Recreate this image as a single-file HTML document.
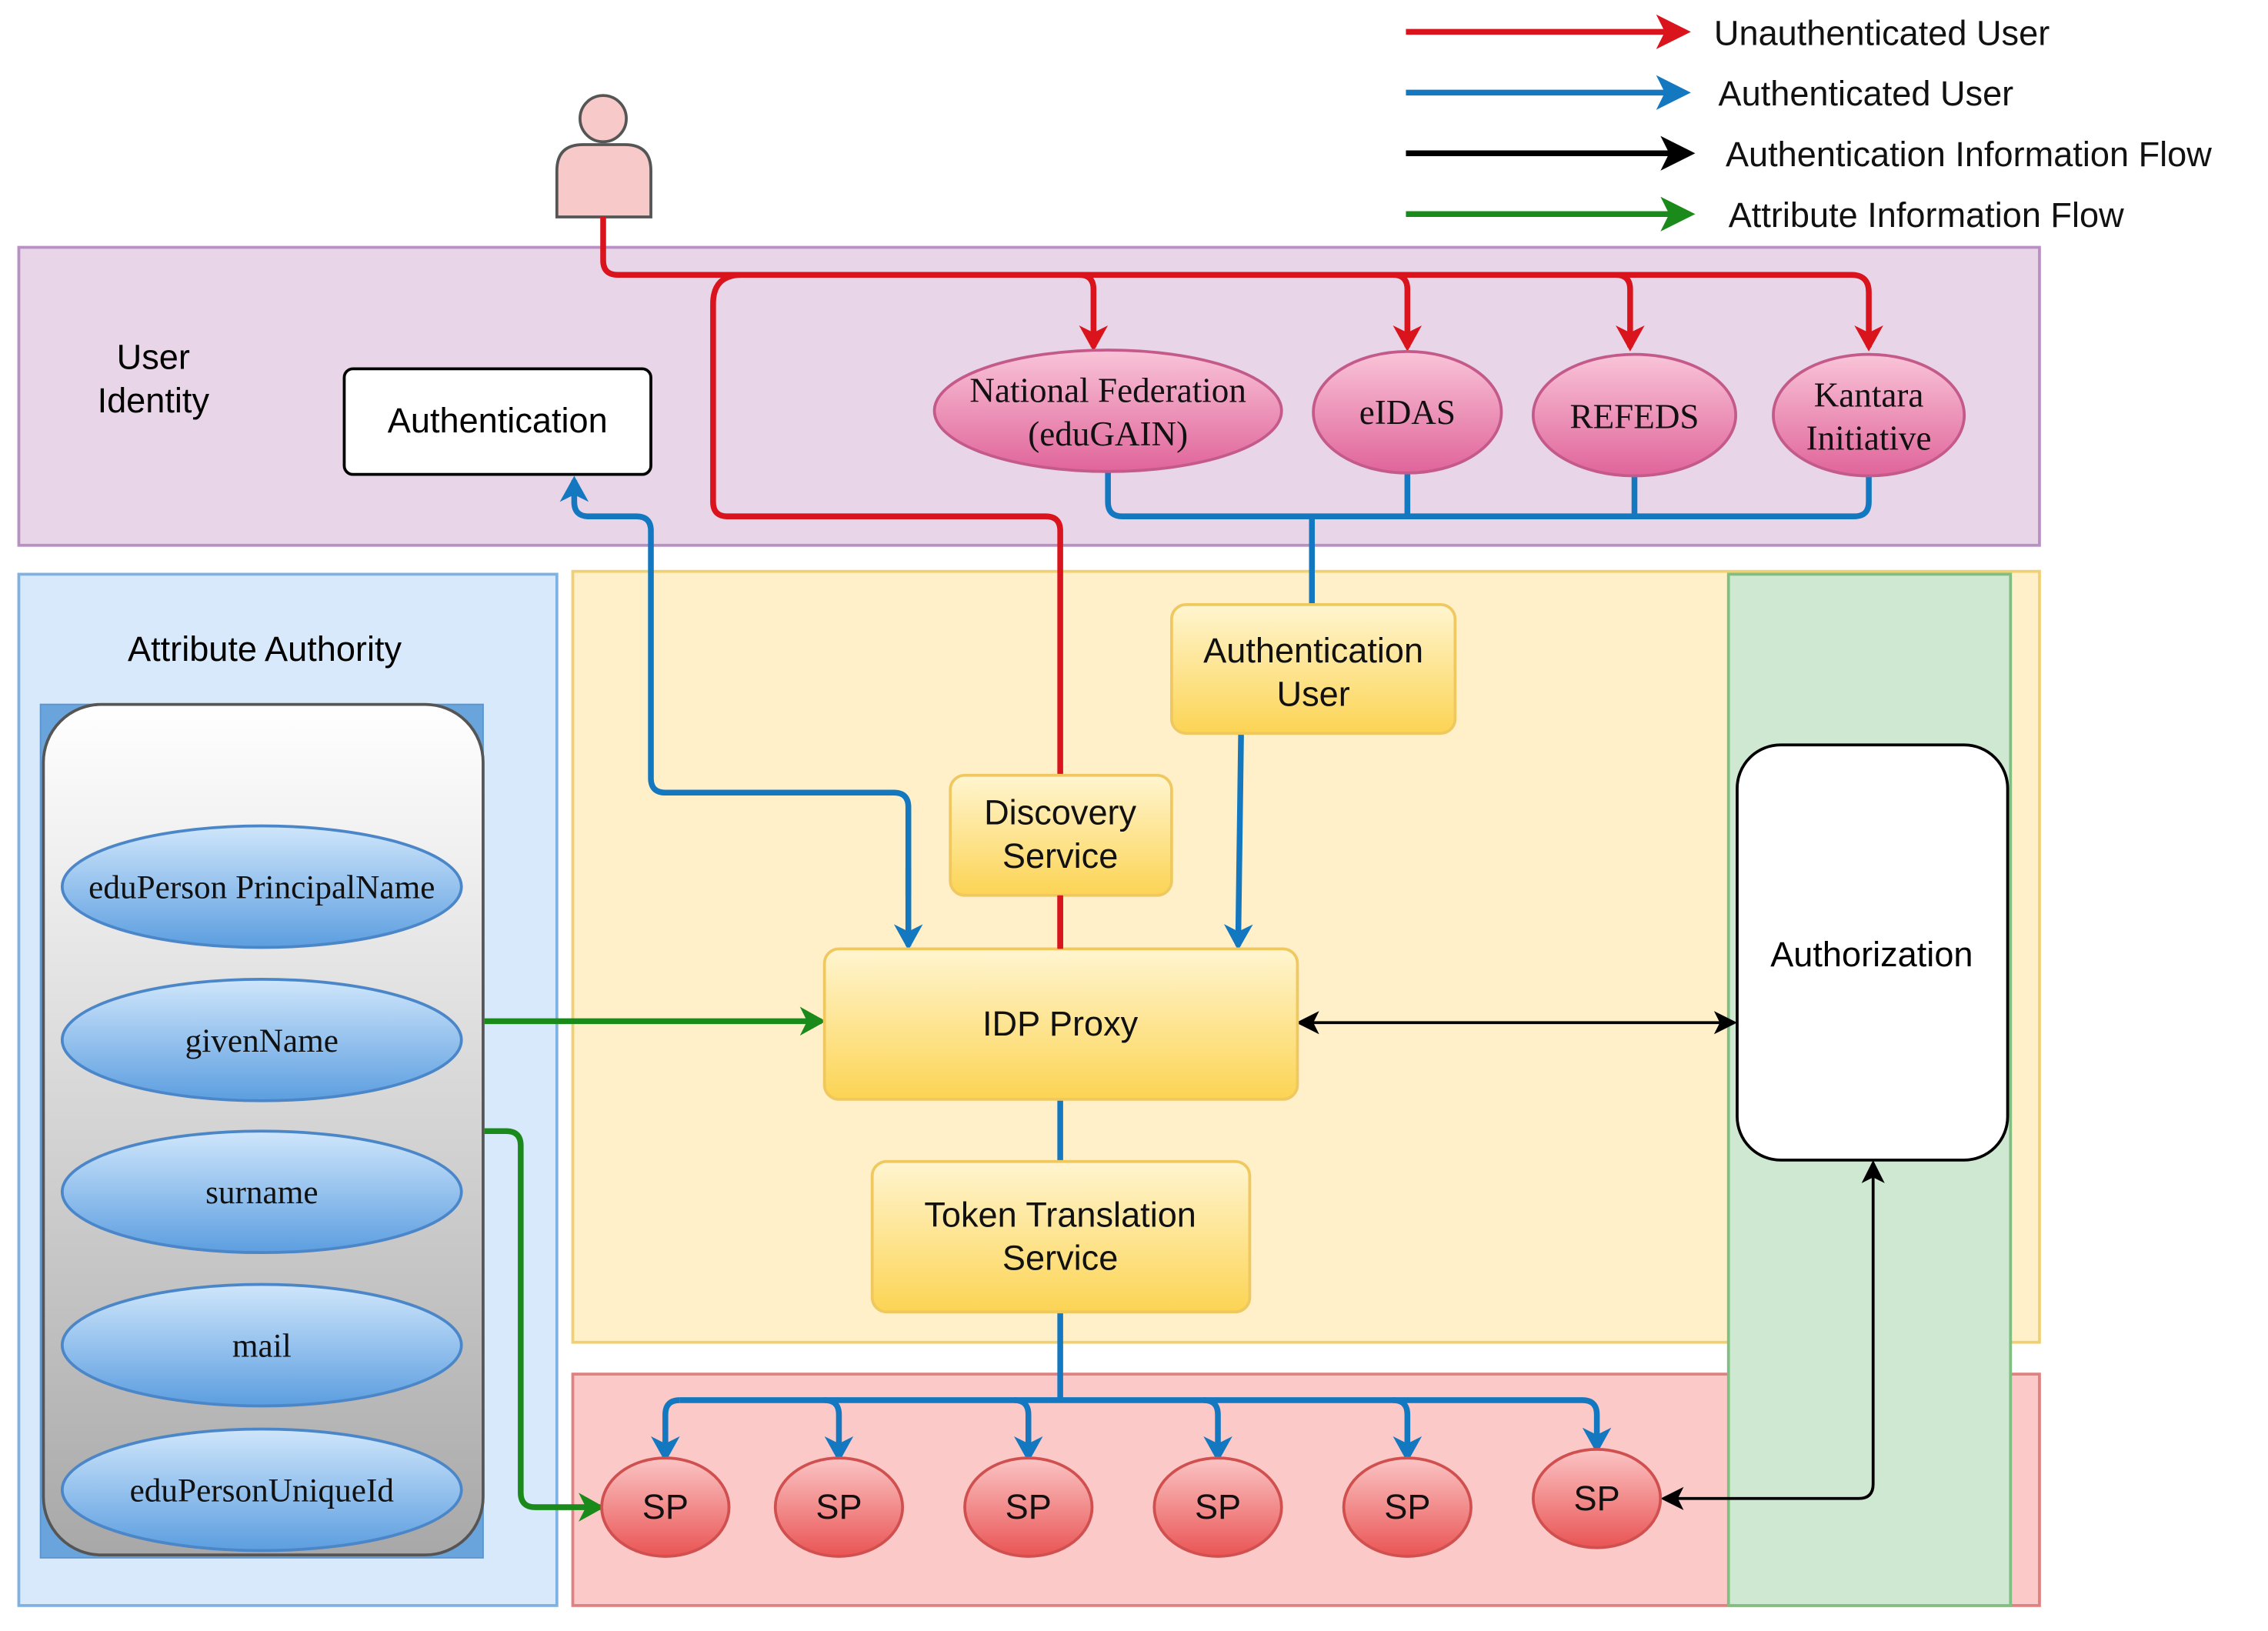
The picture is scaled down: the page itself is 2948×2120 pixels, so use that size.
<!DOCTYPE html>
<html><head><meta charset="utf-8"><style>html,body{margin:0;padding:0;background:#fff}svg{display:block}</style></head>
<body>
<svg width="2948" height="2120" viewBox="0 0 1568 1127.6" preserveAspectRatio="none" xmlns="http://www.w3.org/2000/svg" font-family="Liberation Sans, sans-serif">
<defs>
<linearGradient id="pk" x1="0" y1="0" x2="0" y2="1"><stop offset="0" stop-color="#f9c4d8"/><stop offset="1" stop-color="#e0649a"/></linearGradient>
<linearGradient id="bl" x1="0" y1="0" x2="0" y2="1"><stop offset="0" stop-color="#cfe6fb"/><stop offset="1" stop-color="#5c9ee0"/></linearGradient>
<linearGradient id="rd" x1="0" y1="0" x2="0" y2="1"><stop offset="0" stop-color="#fbc4c4"/><stop offset="1" stop-color="#ea5454"/></linearGradient>
<linearGradient id="yl" x1="0" y1="0" x2="0" y2="1"><stop offset="0" stop-color="#fff5d0"/><stop offset="1" stop-color="#fcd454"/></linearGradient>
<linearGradient id="gr" x1="0" y1="0" x2="0" y2="1"><stop offset="0" stop-color="#ffffff"/><stop offset="1" stop-color="#a8a8a8"/></linearGradient>
<marker id="ar" markerWidth="18" markerHeight="20" refX="15" refY="10" orient="auto" markerUnits="userSpaceOnUse" viewBox="0 0 18 20"><path d="M0,0 L18,10 L0,20 L5,10z" fill="#d9141c"/></marker>
<marker id="ab" markerWidth="18" markerHeight="20" refX="15" refY="10" orient="auto" markerUnits="userSpaceOnUse" viewBox="0 0 18 20"><path d="M0,0 L18,10 L0,20 L5,10z" fill="#1478c0"/></marker>
<marker id="ag" markerWidth="18" markerHeight="20" refX="15" refY="10" orient="auto" markerUnits="userSpaceOnUse" viewBox="0 0 18 20"><path d="M0,0 L18,10 L0,20 L5,10z" fill="#1a8a1a"/></marker>
<marker id="arL" markerWidth="24" markerHeight="24" refX="20" refY="12" orient="auto" markerUnits="userSpaceOnUse" viewBox="0 0 24 24"><path d="M0,0 L24,12 L0,24 L6,12z" fill="#d9141c"/></marker>
<marker id="abL" markerWidth="24" markerHeight="24" refX="20" refY="12" orient="auto" markerUnits="userSpaceOnUse" viewBox="0 0 24 24"><path d="M0,0 L24,12 L0,24 L6,12z" fill="#1478c0"/></marker>
<marker id="akL" markerWidth="24" markerHeight="24" refX="20" refY="12" orient="auto" markerUnits="userSpaceOnUse" viewBox="0 0 24 24"><path d="M0,0 L24,12 L0,24 L6,12z" fill="#000"/></marker>
<marker id="agL" markerWidth="24" markerHeight="24" refX="20" refY="12" orient="auto" markerUnits="userSpaceOnUse" viewBox="0 0 24 24"><path d="M0,0 L24,12 L0,24 L6,12z" fill="#000"/></marker>
<marker id="agL2" markerWidth="24" markerHeight="24" refX="20" refY="12" orient="auto" markerUnits="userSpaceOnUse" viewBox="0 0 24 24"><path d="M0,0 L24,12 L0,24 L6,12z" fill="#1a8a1a"/></marker>
<marker id="akS" markerWidth="16" markerHeight="16" refX="14" refY="8" orient="auto-start-reverse" markerUnits="userSpaceOnUse" viewBox="0 0 16 16"><path d="M0,0 L16,8 L0,16 L4,8z" fill="#000"/></marker>
</defs>

<g stroke-width="4" fill="none">
<line x1="972" y1="22" x2="1165" y2="22" stroke="#d9141c" marker-end="url(#arL)"/>
<line x1="972" y1="64" x2="1165" y2="64" stroke="#1478c0" marker-end="url(#abL)"/>
<line x1="972" y1="106" x2="1168" y2="106" stroke="#000" marker-end="url(#akL)"/>
<line x1="972" y1="148" x2="1168" y2="148" stroke="#1a8a1a" marker-end="url(#agL2)"/>
</g>
<g font-size="24" fill="#111">
<text x="1185" y="31">Unauthenticated User</text>
<text x="1188" y="73">Authenticated User</text>
<text x="1193" y="115">Authentication Information Flow</text>
<text x="1195" y="157">Attribute Information Flow</text>
</g>

<rect x="13" y="171" width="1397" height="206" fill="#e8d6e8" stroke="#b890c4" stroke-width="2"/>
<rect x="13" y="397" width="372" height="713" fill="#d8e9fb" stroke="#7fb2e2" stroke-width="2"/>
<rect x="396" y="395" width="1014" height="533" fill="#fff0c9" stroke="#f0d070" stroke-width="2"/>
<rect x="396" y="950" width="1014" height="160" fill="#fcc9c9" stroke="#e08080" stroke-width="2"/>
<rect x="1195" y="397" width="195" height="713" fill="#cfe8d1" stroke="#7fc082" stroke-width="2"/>

<circle cx="417" cy="82" r="16" fill="#f8c9c9" stroke="#555" stroke-width="2"/>
<path d="M385,150 L385,118 Q385,100 403,100 L432,100 Q450,100 450,118 L450,150 Z" fill="#f8c9c9" stroke="#555" stroke-width="2"/>

<text x="106" y="255" font-size="24" text-anchor="middle">User</text>
<text x="106" y="285" font-size="24" text-anchor="middle">Identity</text>
<rect x="238" y="255" width="212" height="73" rx="6" fill="#fff" stroke="#000" stroke-width="2"/>
<text x="344" y="299" font-size="24" text-anchor="middle">Authentication</text>

<g stroke="#d9141c" stroke-width="4" fill="none">
<path d="M417,150 L417,180 Q417,190 427,190 L1280,190 Q1292,190 1292,202 L1292,240" marker-end="url(#ar)"/>
<path d="M746,190 Q756,190 756,200 L756,240" marker-end="url(#ar)"/>
<path d="M963,190 Q973,190 973,200 L973,240" marker-end="url(#ar)"/>
<path d="M1117,190 Q1127,190 1127,200 L1127,240" marker-end="url(#ar)"/>
<path d="M513,190 Q493,190 493,210 L493,347 Q493,357 503,357 L723,357 Q733,357 733,367 L733,656"/>
</g>

<g stroke="#1478c0" stroke-width="4" fill="none">
<path d="M766,326 L766,347 Q766,357 776,357 L1282,357 Q1292,357 1292,347 L1292,328"/>
<path d="M973,326 L973,357 M1130,329 L1130,357 M907,357 L907,418"/>
<path d="M628,620 L628,558 Q628,548 618,548 L460,548 Q450,548 450,538 L450,367 Q450,357 440,357 L407,357 Q397,357 397,347 L397,332" marker-end="url(#ab)"/>
<path d="M628,600 L628,654" marker-end="url(#ab)"/>
<path d="M858,508 L856,654" marker-end="url(#ab)"/>
</g>

<g stroke="#c45a8a" stroke-width="2" fill="url(#pk)">
<ellipse cx="766" cy="284" rx="120" ry="42"/>
<ellipse cx="973" cy="285" rx="65" ry="42"/>
<ellipse cx="1130" cy="287" rx="70" ry="42"/>
<ellipse cx="1292" cy="287" rx="66" ry="42"/>
</g>
<g font-family="Liberation Serif, serif" font-size="24" text-anchor="middle" fill="#111">
<text x="766" y="278">National Federation</text>
<text x="766" y="308">(eduGAIN)</text>
<text x="973" y="293">eIDAS</text>
<text x="1130" y="296">REFEDS</text>
<text x="1292" y="281">Kantara</text>
<text x="1292" y="311">Initiative</text>
</g>

<text x="183" y="457" font-size="24" text-anchor="middle">Attribute Authority</text>
<rect x="28" y="487" width="306" height="590" fill="#6aa4dc" stroke="#5b95d0"/>
<rect x="30" y="487" width="304" height="588" rx="40" fill="url(#gr)" stroke="#555" stroke-width="2"/>
<g stroke="#4a86c8" stroke-width="2" fill="url(#bl)">
<ellipse cx="181" cy="613" rx="138" ry="42"/>
<ellipse cx="181" cy="719" rx="138" ry="42"/>
<ellipse cx="181" cy="824" rx="138" ry="42"/>
<ellipse cx="181" cy="930" rx="138" ry="42"/>
<ellipse cx="181" cy="1030" rx="138" ry="42"/>
</g>
<g font-family="Liberation Serif, serif" font-size="23" text-anchor="middle" fill="#111">
<text x="181" y="621">eduPerson PrincipalName</text>
<text x="181" y="727">givenName</text>
<text x="181" y="832">surname</text>
<text x="181" y="938">mail</text>
<text x="181" y="1038">eduPersonUniqueId</text>
</g>

<g stroke="#1a8a1a" stroke-width="4" fill="none">
<path d="M335,706 L568,706" marker-end="url(#ag)"/>
<path d="M335,782 L350,782 Q360,782 360,792 L360,1032 Q360,1042 370,1042 L415,1042" marker-end="url(#ag)"/>
</g>

<g stroke="#000" stroke-width="2" fill="none">
<path d="M898,707 L1199,707" marker-end="url(#akS)" marker-start="url(#akS)"/>
<path d="M1295,804 L1295,1026 Q1295,1036 1285,1036 L1150,1036" marker-end="url(#akS)" marker-start="url(#akS)"/>
</g>

<g stroke="#1478c0" stroke-width="4" fill="none">
<path d="M733,760 L733,803 M733,907 L733,968"/>
<path d="M470,968 L1094,968 Q1104,968 1104,978 L1104,1002" marker-end="url(#ab)"/>
<path d="M470,968 Q460,968 460,978 L460,1008" marker-end="url(#ab)"/>
<path d="M570,968 Q580,968 580,978 L580,1008" marker-end="url(#ab)"/>
<path d="M701,968 Q711,968 711,978 L711,1008" marker-end="url(#ab)"/>
<path d="M832,968 Q842,968 842,978 L842,1008" marker-end="url(#ab)"/>
<path d="M963,968 Q973,968 973,978 L973,1008" marker-end="url(#ab)"/>
</g>

<g fill="url(#yl)" stroke="#f0c860" stroke-width="2">
<rect x="810" y="418" width="196" height="89" rx="10"/>
<rect x="657" y="536" width="153" height="83" rx="10"/>
<rect x="570" y="656" width="327" height="104" rx="10"/>
<rect x="603" y="803" width="261" height="104" rx="10"/>
</g>
<line x1="733" y1="619" x2="733" y2="656" stroke="#d9141c" stroke-width="4"/>
<g font-size="24" text-anchor="middle" fill="#111">
<text x="908" y="458">Authentication</text>
<text x="908" y="488">User</text>
<text x="733" y="570">Discovery</text>
<text x="733" y="600">Service</text>
<text x="733" y="716">IDP Proxy</text>
<text x="733" y="848">Token Translation</text>
<text x="733" y="878">Service</text>
</g>

<rect x="1201" y="515" width="187" height="287" rx="30" fill="#fff" stroke="#000" stroke-width="2"/>
<text x="1294" y="668" font-size="24" text-anchor="middle">Authorization</text>

<g fill="url(#rd)" stroke="#d05050" stroke-width="2">
<ellipse cx="460" cy="1042" rx="44" ry="34"/>
<ellipse cx="580" cy="1042" rx="44" ry="34"/>
<ellipse cx="711" cy="1042" rx="44" ry="34"/>
<ellipse cx="842" cy="1042" rx="44" ry="34"/>
<ellipse cx="973" cy="1042" rx="44" ry="34"/>
<ellipse cx="1104" cy="1036" rx="44" ry="34"/>
</g>
<g font-size="24" text-anchor="middle" fill="#111">
<text x="460" y="1050">SP</text><text x="580" y="1050">SP</text><text x="711" y="1050">SP</text>
<text x="842" y="1050">SP</text><text x="973" y="1050">SP</text><text x="1104" y="1044">SP</text>
</g>
</svg>
</body></html>
